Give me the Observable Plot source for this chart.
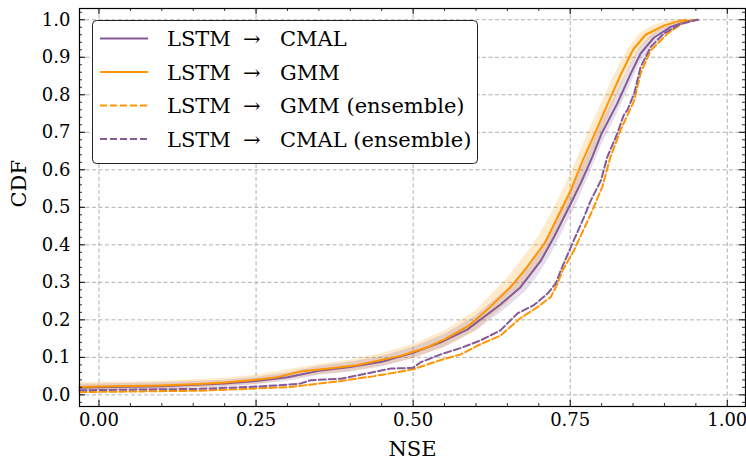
<!DOCTYPE html>
<html>
<head>
<meta charset="utf-8">
<script src="https://cdn.jsdelivr.net/npm/d3@7"></script>
<script src="https://cdn.jsdelivr.net/npm/@observablehq/plot@0.6"></script>
<style>
  html, body { margin: 0; padding: 0; background: #fff; }
  #wrap { position: relative; width: 746px; height: 462px; }
  #legend { position: absolute; left: 92px; top: 20px; }
</style>
</head>
<body>
<div id="wrap"><div id="chart"></div><svg id="legend" width="387" height="145"></svg></div>
<script>
// ---- data ----
const seriesNames = ["LSTM → CMAL", "LSTM → GMM", "LSTM → GMM (ensemble)", "LSTM → CMAL (ensemble)"];
const seriesColors = ["#845B97", "#FF9500", "#FF9500", "#845B97"];
const seriesDashed = [false, false, true, true];

const cmalNse = [-0.031, 0.0, 0.1, 0.2, 0.25, 0.3, 0.35, 0.4, 0.45, 0.48, 0.5, 0.544, 0.586, 0.639, 0.671, 0.703, 0.724, 0.745, 0.767, 0.785, 0.80, 0.825, 0.846, 0.862, 0.883, 0.91, 0.937, 0.953];
const cmalCdf = [0.019, 0.020, 0.023, 0.030, 0.037, 0.047, 0.064, 0.074, 0.088, 0.103, 0.112, 0.140, 0.174, 0.241, 0.287, 0.357, 0.42, 0.49, 0.565, 0.634, 0.697, 0.777, 0.855, 0.91, 0.952, 0.981, 0.997, 1.0];

const gmmNse = [-0.031, 0.0, 0.1, 0.16, 0.2, 0.25, 0.28, 0.32, 0.37, 0.41, 0.44, 0.48, 0.5, 0.52, 0.55, 0.59, 0.62, 0.655, 0.68, 0.71, 0.73, 0.75, 0.77, 0.79, 0.81, 0.83, 0.85, 0.87, 0.90, 0.92, 0.934];
const gmmCdf = [0.021, 0.022, 0.025, 0.029, 0.033, 0.040, 0.046, 0.062, 0.071, 0.079, 0.090, 0.104, 0.115, 0.125, 0.148, 0.186, 0.230, 0.287, 0.338, 0.406, 0.474, 0.542, 0.625, 0.70, 0.777, 0.852, 0.92, 0.96, 0.985, 0.995, 1.0];

const gmmEnsNse = [-0.031, 0.0, 0.16, 0.25, 0.305, 0.385, 0.438, 0.50, 0.544, 0.576, 0.607, 0.639, 0.671, 0.698, 0.719, 0.730, 0.738, 0.756, 0.783, 0.801, 0.814, 0.830, 0.852, 0.862, 0.878, 0.905, 0.931, 0.947];
const gmmEnsCdf = [0.007, 0.008, 0.011, 0.017, 0.021, 0.037, 0.050, 0.068, 0.093, 0.108, 0.135, 0.158, 0.205, 0.234, 0.261, 0.297, 0.332, 0.385, 0.483, 0.554, 0.634, 0.705, 0.785, 0.857, 0.918, 0.963, 0.994, 1.0];

const cmalEnsNse = [-0.031, 0.0, 0.16, 0.25, 0.28, 0.32, 0.337, 0.385, 0.438, 0.464, 0.50, 0.512, 0.544, 0.576, 0.607, 0.639, 0.666, 0.692, 0.714, 0.727, 0.735, 0.751, 0.772, 0.783, 0.799, 0.809, 0.825, 0.835, 0.841, 0.852, 0.862, 0.878, 0.899, 0.926, 0.953];
const cmalEnsCdf = [0.012, 0.013, 0.016, 0.022, 0.025, 0.030, 0.039, 0.043, 0.061, 0.070, 0.072, 0.087, 0.108, 0.125, 0.145, 0.172, 0.217, 0.239, 0.27, 0.297, 0.332, 0.394, 0.474, 0.519, 0.572, 0.634, 0.697, 0.745, 0.759, 0.804, 0.874, 0.927, 0.963, 0.989, 1.0];

// uncertainty bands around the single-model curves
const gmmBandNse = [-0.031, 0.1, 0.2, 0.25, 0.3, 0.35, 0.4, 0.45, 0.5, 0.55, 0.6, 0.65, 0.68, 0.7, 0.72, 0.74, 0.76, 0.78, 0.8, 0.82, 0.84, 0.86, 0.88, 0.9, 0.92, 0.94];
const gmmBandLo  = [0.010, 0.014, 0.022, 0.028, 0.041, 0.053, 0.062, 0.076, 0.096, 0.126, 0.170, 0.245, 0.301, 0.343, 0.398, 0.466, 0.541, 0.620, 0.698, 0.778, 0.856, 0.918, 0.953, 0.975, 0.990, 1.0];
const gmmBandHi  = [0.032, 0.036, 0.044, 0.052, 0.067, 0.081, 0.092, 0.110, 0.134, 0.170, 0.224, 0.311, 0.375, 0.423, 0.482, 0.550, 0.625, 0.704, 0.778, 0.852, 0.916, 0.962, 0.983, 0.995, 1.0, 1.0];

const cmalBandNse = [-0.031, 0.1, 0.2, 0.25, 0.3, 0.35, 0.4, 0.45, 0.5, 0.55, 0.6, 0.65, 0.68, 0.7, 0.72, 0.74, 0.76, 0.78, 0.8, 0.82, 0.84, 0.86, 0.88, 0.9, 0.92, 0.94, 0.953];
const cmalBandLo  = [0.010, 0.014, 0.021, 0.027, 0.036, 0.052, 0.061, 0.074, 0.097, 0.127, 0.170, 0.233, 0.277, 0.320, 0.376, 0.441, 0.508, 0.585, 0.667, 0.732, 0.804, 0.880, 0.931, 0.960, 0.980, 0.991, 1.0];
const cmalBandHi  = [0.028, 0.032, 0.039, 0.047, 0.058, 0.076, 0.087, 0.102, 0.127, 0.161, 0.210, 0.283, 0.333, 0.380, 0.440, 0.505, 0.572, 0.649, 0.727, 0.792, 0.860, 0.924, 0.961, 0.980, 0.992, 0.999, 1.0];

const xTicks = [0, 0.25, 0.5, 0.75, 1.0];
const yTicks = [0, 0.1, 0.2, 0.3, 0.4, 0.5, 0.6, 0.7, 0.8, 0.9, 1.0];
const xMinor = d3.range(-0.0, 1.0001, 0.05).filter(v => xTicks.every(t => Math.abs(t - v) > 1e-6));
const yMinor = d3.range(-0.02, 1.0201, 0.02).filter(v => yTicks.every(t => Math.abs(t - v) > 1e-6));

// ---- build tables ----
const toRows = (xs, ys) => xs.map((x, i) => ({x, y: ys[i]}));
const lines = [
  toRows(cmalNse, cmalCdf),
  toRows(gmmNse, gmmCdf),
  toRows(gmmEnsNse, gmmEnsCdf),
  toRows(cmalEnsNse, cmalEnsCdf)
];
const gmmBand = gmmBandNse.map((x, i) => ({x, lo: gmmBandLo[i], hi: gmmBandHi[i]}));
const cmalBand = cmalBandNse.map((x, i) => ({x, lo: cmalBandLo[i], hi: cmalBandHi[i]}));

const W = 746, H = 462, mL = 79, mR = 1, mT = 8, mB = 56;
const innerH = H - mT - mB;
const font = "DejaVu Serif";

const lineMark = (i) => Plot.line(lines[i], {
  x: "x", y: "y", stroke: seriesColors[i], strokeWidth: 2,
  strokeDasharray: seriesDashed[i] ? "7,3" : null
});

const chart = Plot.plot({
  width: W, height: H,
  marginLeft: mL, marginRight: mR, marginTop: mT, marginBottom: mB,
  style: {fontFamily: font, background: "#fff", color: "#000"},
  x: {domain: [-0.031, 1.029]},
  y: {domain: [-0.031, 1.03]},
  marks: [
    Plot.gridX(xTicks, {stroke: "#b0b0b0", strokeOpacity: 1, strokeDasharray: "4,2.5", strokeWidth: 1}),
    Plot.gridY(yTicks, {stroke: "#b0b0b0", strokeOpacity: 1, strokeDasharray: "4,2.5", strokeWidth: 1}),
    Plot.areaY(gmmBand, {x: "x", y1: "lo", y2: "hi", fill: "#FF9500", fillOpacity: 0.2}),
    Plot.areaY(cmalBand, {x: "x", y1: "lo", y2: "hi", fill: "#845B97", fillOpacity: 0.2}),
    lineMark(0),
    lineMark(1),
    lineMark(2),
    lineMark(3),
    // inward ticks on all sides
    Plot.tickX(xTicks, {x: d => d, insetTop: innerH - 6, stroke: "#000", strokeWidth: 1}),
    Plot.tickX(xTicks, {x: d => d, insetBottom: innerH - 6, stroke: "#000", strokeWidth: 1}),
    Plot.tickX(xMinor, {x: d => d, insetTop: innerH - 3, stroke: "#000", strokeWidth: 0.8}),
    Plot.tickX(xMinor, {x: d => d, insetBottom: innerH - 3, stroke: "#000", strokeWidth: 0.8}),
    Plot.tickY(yTicks, {y: d => d, insetRight: (W - mL - mR) - 6, stroke: "#000", strokeWidth: 1}),
    Plot.tickY(yTicks, {y: d => d, insetLeft: (W - mL - mR) - 6, stroke: "#000", strokeWidth: 1}),
    Plot.tickY(yMinor, {y: d => d, insetRight: (W - mL - mR) - 3, stroke: "#000", strokeWidth: 0.8}),
    Plot.tickY(yMinor, {y: d => d, insetLeft: (W - mL - mR) - 3, stroke: "#000", strokeWidth: 0.8}),
    Plot.frame({stroke: "#000", strokeWidth: 1.2}),
    Plot.axisX(xTicks, {tickSize: 0, tickPadding: 7, tickFormat: d3.format(".2f"), fontSize: 18, label: null}),
    Plot.axisY(yTicks, {tickSize: 0, tickPadding: 9, tickFormat: d3.format(".1f"), fontSize: 18, label: null}),
    Plot.text(["NSE"], {frameAnchor: "bottom", dy: 43, fontSize: 21, lineAnchor: "middle", fill: "#000"}),
    Plot.text(["CDF"], {frameAnchor: "left", dx: -60, fontSize: 21, rotate: -90, lineAnchor: "middle", fill: "#000"})
  ]
});
document.getElementById("chart").appendChild(chart);

// ---- legend overlay ----
const lg = d3.select("#legend");
lg.append("rect").attr("x", 0.5).attr("y", 0.5).attr("width", 385).attr("height", 143)
  .attr("rx", 4).attr("fill", "#fff").attr("stroke", "#222").attr("stroke-width", 1);
seriesNames.forEach((name, i) => {
  const cy = 18.5 + i * 33.5;
  lg.append("line").attr("x1", 8).attr("x2", 56).attr("y1", cy).attr("y2", cy)
    .attr("stroke", seriesColors[i]).attr("stroke-width", 2)
    .attr("stroke-dasharray", seriesDashed[i] ? "7,3" : null);
  const parts = name.split(" → ");
  const t = lg.append("text").attr("y", cy).attr("dy", "0.36em")
    .attr("font-family", font).attr("font-size", 21).attr("fill", "#000");
  t.append("tspan").attr("x", 75).text(parts[0]);
  t.append("tspan").attr("x", 151).text("→");
  t.append("tspan").attr("x", 188).text(parts[1]);
});
</script>
</body>
</html>
